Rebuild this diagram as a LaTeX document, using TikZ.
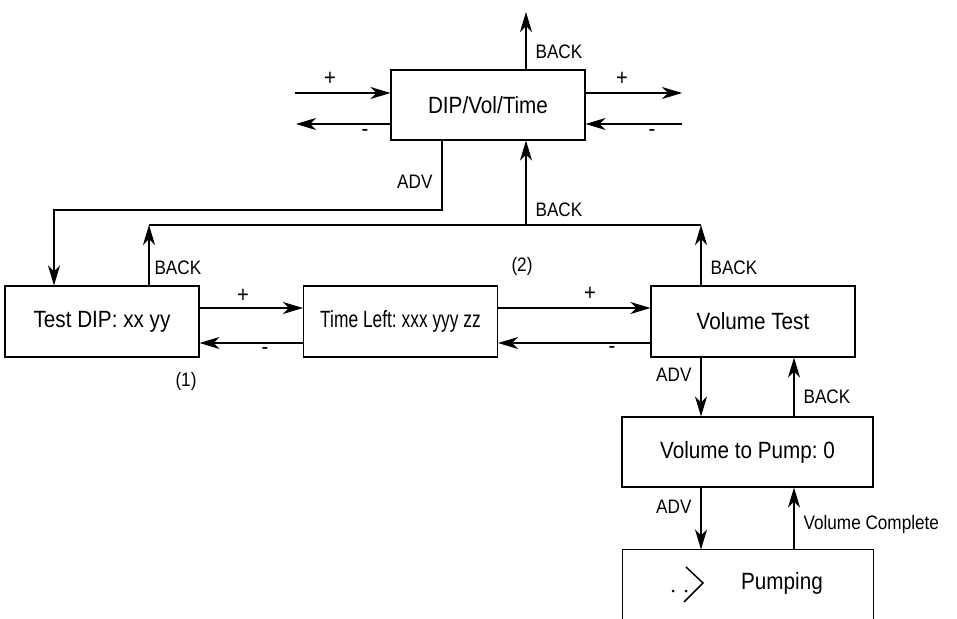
\documentclass[tikz,border=0pt]{standalone}
\usepackage{fontspec}
\usepackage{graphicx}
\setmainfont[FakeStretch=0.88]{Liberation Sans}
\usetikzlibrary{arrows.meta,calc}
\frenchspacing

\begin{document}
\begin{tikzpicture}[
  x=1pt, y=-1pt,
  line width=1.1pt,
  >={Stealth[length=20pt,width=12pt,inset=6pt]},
  box/.style={draw, minimum height=71pt, inner sep=0pt, font=\fontsize{23.5}{26}\selectfont},
  lbl/.style={font=\fontsize{19.5}{21}\selectfont, inner sep=0pt},
  sgn/.style={font=\fontsize{23}{24}\selectfont, inner sep=0pt},
]
  \clip (0,0) rectangle (957,618);

  % ===================== TOP: menu box =====================
  \node[box, minimum width=194pt, minimum height=70pt] (dvt) at (488,105) {DIP/Vol/Time};

  \coordinate (top) at (526,12);
  \draw[->] (dvt.north -| top) -- (top);
  \node[lbl, anchor=west] at (535,52) {BACK};

  \coordinate (lp) at (295,93);
  \coordinate (lm) at (296,124);
  \coordinate (rp) at (682,93);
  \coordinate (rm) at (682,124);
  \draw[->] (lp) -- (lp -| dvt.west);
  \draw[->] (lm -| dvt.west) -- (lm);
  \draw[->] (rp -| dvt.east) -- (rp);
  \draw[->] (rm) -- (rm -| dvt.east);
  \node[sgn] at (330,79) {+};
  \node[sgn] at (365,133) {-};
  \node[sgn] at (622,79) {+};
  \node[sgn] at (652,133) {-};

  % ===================== MIDDLE ROW =====================
  \node[box, minimum width=194pt] (tdip)  at (102,321.5)   {Test DIP: xx yy};
  \node[box, minimum width=194pt] (tleft) at (400.5,321.5) {\scalebox{0.84}[1]{Time Left: xxx yyy zz}};
  \node[box, minimum width=204pt] (vtest) at (753,321.5)   {Volume Test};

  % ADV down to Test DIP
  \coordinate (advc) at (442,210);
  \draw[->] (dvt.south -| advc) -- (advc) -| ([xshift=-48pt]tdip.north);
  \node[lbl, anchor=east] at (433,182) {ADV};

  % BACK bus
  \coordinate (busl) at (149,225);
  \coordinate (busm) at (526,225);
  \coordinate (busr) at (701,225);
  \draw[->] (tdip.north -| busl) -- (busl);
  \draw[->] (vtest.north -| busr) -- (busr);
  \draw (busl) -- (busr);
  \draw[->] (busm) -- (dvt.south -| busm);
  \node[lbl, anchor=west] at (535,210) {BACK};
  \node[lbl, anchor=west] at (154,268) {BACK};
  \node[lbl, anchor=west] at (710,268) {BACK};
  \node[lbl] at (522,266) {(2)};
  \node[lbl] at (186,381) {(1)};

  \draw[->] ([yshift=13.5pt]tdip.east) -- ([yshift=13.5pt]tleft.west);
  \draw[->] ([yshift=-21.5pt]tleft.west) -- ([yshift=-21.5pt]tdip.east);
  \draw[->] ([yshift=13.5pt]tleft.east) -- ([yshift=13.5pt]vtest.west);
  \draw[->] ([yshift=-21.5pt]vtest.west) -- ([yshift=-21.5pt]tleft.east);
  \node[sgn] at (243,296) {+};
  \node[sgn] at (265,351) {-};
  \node[sgn] at (590,294) {+};
  \node[sgn] at (612,350) {-};

  % ===================== RIGHT COLUMN =====================
  \node[box, minimum width=251pt, minimum height=70pt] (vpump) at (747.5,452) {Volume to Pump: 0};
  \node[box, draw=none, minimum width=250pt, minimum height=66pt] (pump) at (748,583) {};
  \node[font=\fontsize{23.5}{26}\selectfont, inner sep=0pt] (ptxt) at (782,583) {Pumping};
  \draw ([yshift=-10pt]pump.south west) |- (pump.north east) -- ([yshift=-10pt]pump.south east);
  \fill (673,591) circle (1.5);
  \fill (686,591) circle (1.5);
  \draw[line width=1.5pt] (686,567) -- (703,583) -- (684,602);

  \coordinate (rcol) at (794,500);
  \draw[->] (vtest.south -| busr) -- (vpump.north -| busr);
  \draw[->] (vpump.north -| rcol) -- (vtest.south -| rcol);
  \draw[->] (vpump.south -| busr) -- (pump.north -| busr);
  \draw[->] (pump.north -| rcol) -- (vpump.south -| rcol);
  \node[lbl, anchor=east] at (692,375) {ADV};
  \node[lbl, anchor=west] at (803,397) {BACK};
  \node[lbl, anchor=east] at (692,507) {ADV};
  \node[lbl, anchor=west] at (803,524) {Volume Complete};
\end{tikzpicture}
\end{document}
